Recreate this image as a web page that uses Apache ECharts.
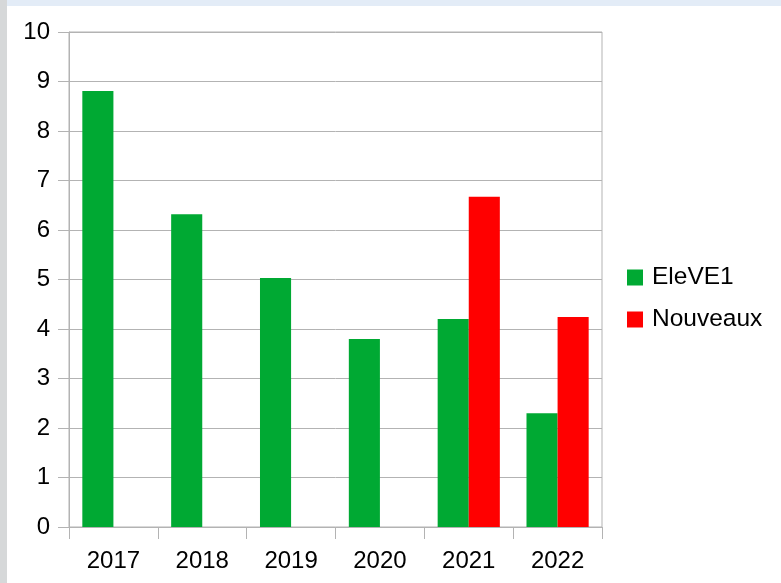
<!DOCTYPE html>
<html>
<head>
<meta charset="utf-8">
<script src="https://cdn.jsdelivr.net/npm/echarts@6/dist/echarts.min.js"></script>
<style>
  html, body { margin: 0; padding: 0; }
  body { width: 781px; height: 583px; position: relative; overflow: hidden; background: #e3ecf7; }
  .strip { position: absolute; left: 0; top: 0; width: 7px; height: 583px; background: #d6d8d9; }
  .panel { position: absolute; left: 7px; top: 6px; right: 0; bottom: 0; background: #ffffff; }
  #chart { position: absolute; left: 0; top: 0; width: 781px; height: 583px; }
</style>
</head>
<body>
<div class="strip"></div>
<div class="panel"></div>
<div id="chart"></div>
<script>
// données
const years = ['2017', '2018', '2019', '2020', '2021', '2022'];
const eleve1 = [8.81, 6.32, 5.03, 3.80, 4.20, 2.30];
const nouveaux = [null, null, null, null, 6.67, 4.24];

const chart = echarts.init(document.getElementById('chart'));
const gris = '#b3b3b3';
const police = 'Liberation Sans, Arial, sans-serif';

const option = {
  animation: false,
  backgroundColor: 'transparent',
  textStyle: { fontFamily: police },
  grid: {
    left: 69,
    right: 179,
    top: 32,
    bottom: 56,
    show: true,
    borderColor: gris,
    borderWidth: 1,
  },
  legend: {
    orient: 'vertical',
    left: 627,
    top: 265,
    padding: 0,
    icon: 'rect',
    itemWidth: 16,
    itemHeight: 16,
    itemGap: 17,
    textStyle: { fontSize: 24.5, color: '#000', fontFamily: police, padding: [0, 0, 0, 4] },
    data: ['EleVE1', 'Nouveaux'],
  },
  xAxis: {
    type: 'category',
    data: years,
    axisLine: { lineStyle: { color: gris } },
    axisTick: { show: true, length: 12, lineStyle: { color: gris } },
    axisLabel: { fontSize: 24, color: '#000', margin: 22, fontFamily: police },
  },
  yAxis: {
    type: 'value',
    min: 0,
    max: 10,
    interval: 1,
    axisLine: { show: true, lineStyle: { color: gris } },
    axisTick: { show: true, length: 11, lineStyle: { color: gris } },
    axisLabel: { fontSize: 24, color: '#000', margin: 19, fontFamily: police },
    splitLine: { lineStyle: { color: gris } },
  },
  series: [
    {
      name: 'EleVE1',
      type: 'bar',
      data: eleve1,
      barGap: '0%',
      barCategoryGap: '30%',
      itemStyle: { color: '#00a933' },
    },
    {
      name: 'Nouveaux',
      type: 'bar',
      data: nouveaux,
      barGap: '0%',
      barCategoryGap: '30%',
      itemStyle: { color: '#ff0000' },
    },
  ],
};
chart.setOption(option);
</script>
</body>
</html>
